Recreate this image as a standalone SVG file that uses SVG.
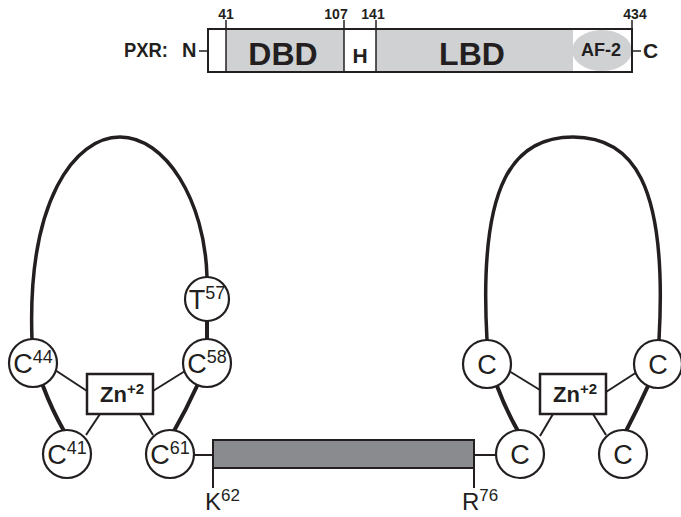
<svg xmlns="http://www.w3.org/2000/svg" width="681" height="517" viewBox="0 0 681 517">
<style>
text{font-family:"Liberation Sans",Arial,sans-serif;fill:#231f20}
.b{font-weight:bold}
.num{font-size:14px;font-weight:bold;text-anchor:middle}
.res{stroke:#231f20;stroke-width:2.2;fill:#fff}
.thick{stroke:#231f20;stroke-width:4;fill:none;stroke-linecap:round}
.thin{stroke:#231f20;stroke-width:2;fill:none}
.loop{stroke:#231f20;stroke-width:3.5;fill:none}
.lbl{font-size:27px;text-anchor:middle}
.sup{font-size:18px}
.zn{font-size:22px;font-weight:bold;text-anchor:middle}
</style>
<rect width="681" height="517" fill="#fff"/>
<g id="pxr-domain-map">
<rect x="208" y="29" width="424" height="43" fill="#fff"/>
<rect x="226" y="30" width="118" height="41" fill="#d0d1d3"/>
<rect x="376" y="30" width="197" height="41" fill="#d0d1d3"/>
<ellipse cx="602" cy="50.5" rx="30" ry="20.5" fill="#d0d1d3"/>
<rect x="208" y="29" width="424" height="43" fill="none" stroke="#231f20" stroke-width="2"/>
<line x1="226" y1="29" x2="226" y2="72" stroke="#231f20" stroke-width="1.5"/>
<line x1="344" y1="29" x2="344" y2="72" stroke="#231f20" stroke-width="1.5"/>
<line x1="376" y1="29" x2="376" y2="72" stroke="#231f20" stroke-width="1.5"/>
<line x1="226" y1="20" x2="226" y2="29" stroke="#231f20" stroke-width="1.5"/>
<line x1="344" y1="20" x2="344" y2="29" stroke="#231f20" stroke-width="1.5"/>
<line x1="376" y1="20" x2="376" y2="29" stroke="#231f20" stroke-width="1.5"/>
<line x1="632" y1="20" x2="632" y2="29" stroke="#231f20" stroke-width="1.5"/>
<line x1="199" y1="51" x2="208" y2="51" stroke="#231f20" stroke-width="1.5"/>
<line x1="632" y1="51" x2="641" y2="51" stroke="#231f20" stroke-width="1.5"/>
<text class="num" x="226" y="19">41</text>
<text class="num" x="336" y="19">107</text>
<text class="num" x="373" y="19">141</text>
<text class="num" x="635" y="19">434</text>
<text class="b" x="124" y="57" font-size="20" textLength="44" lengthAdjust="spacingAndGlyphs">PXR:</text>
<text class="b" x="182" y="57" font-size="20">N</text>
<text class="b" x="283" y="65" font-size="32" text-anchor="middle">DBD</text>
<text class="b" x="360" y="63" font-size="21" text-anchor="middle">H</text>
<text class="b" x="472" y="65" font-size="32" text-anchor="middle">LBD</text>
<text class="b" x="601" y="56" font-size="18" text-anchor="middle">AF-2</text>
<text class="b" x="643" y="58" font-size="21">C</text>
</g>
<g id="connectors">
<path class="loop" d="M 32 340 C 27 200, 75 137, 120 137 C 165 137, 205 200, 207 277"/>
<path class="loop" d="M 487 340 C 478 180, 515 137, 573 137 C 631 137, 668 180, 659 340"/>
<line class="thick" x1="207" y1="321" x2="207" y2="340"/>
<path class="thick" d="M 43 386 Q 52 410 64 431"/>
<path class="thick" d="M 197 386 Q 186 410 174 431"/>
<path class="thick" d="M 497 386 Q 506 410 518 431"/>
<path class="thick" d="M 648 386 Q 637 410 626 431"/>
<line class="thin" x1="55" y1="370" x2="87" y2="391"/>
<line class="thin" x1="185" y1="371" x2="153" y2="391"/>
<line class="thin" x1="86" y1="435" x2="100" y2="414"/>
<line class="thin" x1="153" y1="435" x2="140" y2="414"/>
<line class="thin" x1="509" y1="371" x2="540" y2="390"/>
<line class="thin" x1="637" y1="372" x2="606" y2="392"/>
<line class="thin" x1="540" y1="436" x2="553" y2="414"/>
<line class="thin" x1="606" y1="435" x2="593" y2="414"/>
<line class="thin" x1="193" y1="455" x2="213" y2="455"/>
<line class="thin" x1="474" y1="455" x2="497" y2="455"/>
<line class="thin" x1="213" y1="468" x2="213" y2="488"/>
<line class="thin" x1="474" y1="468" x2="474" y2="488"/>
</g>
<g id="helix-bar">
<rect x="213" y="440" width="261" height="28" fill="#8a8b8e" stroke="#231f20" stroke-width="2"/>
</g>
<g id="zn-left">
<rect x="87" y="374" width="66" height="40" fill="#fff" stroke="#231f20" stroke-width="2.5"/>
<text class="zn" x="122" y="402">Zn<tspan font-size="15" dy="-8">+2</tspan></text>
</g>
<g id="zn-right">
<rect x="540" y="374" width="66" height="40" fill="#fff" stroke="#231f20" stroke-width="2.5"/>
<text class="zn" x="575" y="402">Zn<tspan font-size="15" dy="-8">+2</tspan></text>
</g>
<g id="T57"><circle class="res" cx="207" cy="299" r="22"/><text class="lbl" x="207" y="309">T<tspan class="sup" dy="-10">57</tspan></text></g>
<g id="C44"><circle class="res" cx="33" cy="363" r="24"/><text class="lbl" x="33" y="373">C<tspan class="sup" dy="-10">44</tspan></text></g>
<g id="C58"><circle class="res" cx="207" cy="363" r="24"/><text class="lbl" x="207" y="373">C<tspan class="sup" dy="-10">58</tspan></text></g>
<g id="C41"><circle class="res" cx="67" cy="454" r="24"/><text class="lbl" x="67" y="464">C<tspan class="sup" dy="-10">41</tspan></text></g>
<g id="C61"><circle class="res" cx="170" cy="454" r="24"/><text class="lbl" x="170" y="464">C<tspan class="sup" dy="-10">61</tspan></text></g>
<g id="C-r1"><circle class="res" cx="487" cy="364" r="24"/><text class="lbl" x="487" y="374">C</text></g>
<g id="C-r2"><circle class="res" cx="658" cy="364" r="24"/><text class="lbl" x="658" y="374">C</text></g>
<g id="C-r3"><circle class="res" cx="520" cy="454" r="24"/><text class="lbl" x="520" y="464">C</text></g>
<g id="C-r4"><circle class="res" cx="623" cy="454" r="24"/><text class="lbl" x="623" y="464">C</text></g>
<g id="K62"><text x="205" y="510" font-size="24">K<tspan font-size="17" dy="-9">62</tspan></text></g>
<g id="R76"><text x="462" y="510" font-size="24">R<tspan font-size="17" dy="-9">76</tspan></text></g>
</svg>
